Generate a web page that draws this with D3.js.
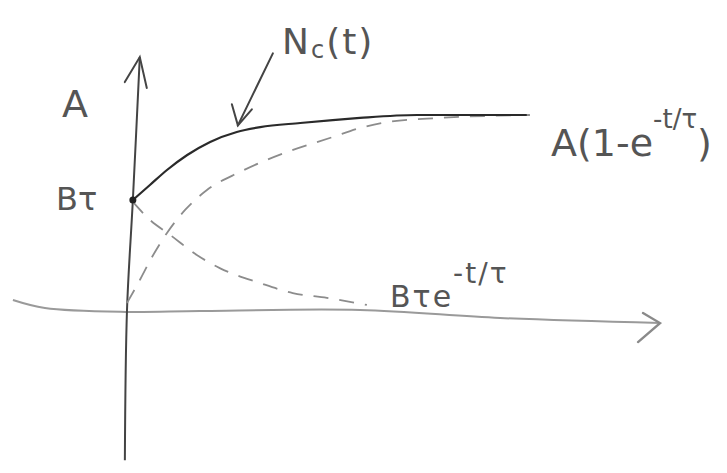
<!DOCTYPE html>
<html>
<head>
<meta charset="utf-8">
<script src="https://cdn.jsdelivr.net/npm/d3@7"></script>
<style>
  body { margin: 0; background: #fff; }
  text { font-family: "DejaVu Sans", sans-serif; fill: #555; }
</style>
</head>
<body>
<svg id="sketch"></svg>
<script>
// values, in units of t and of A (A = 1)
let solidT = [0.11, 0.43, 0.75, 1.13, 1.56, 2.06, 2.50, 3.25, 3.86, 4.37, 5.44, 7.5];
let solidV = [0.564, 0.641, 0.718, 0.795, 0.862, 0.913, 0.938, 0.959, 0.974, 0.985, 1.0, 1.0];

let riseT = [0.0, 0.21, 0.47, 0.75, 1.09, 1.50, 2.12, 3.0, 3.86, 4.37, 4.88, 5.87, 7.56];
let riseV = [0.036, 0.138, 0.272, 0.395, 0.513, 0.615, 0.708, 0.81, 0.887, 0.933, 0.964, 0.985, 1.0];

let decayT = [0.11, 0.43, 0.81, 1.31, 1.74, 2.50, 3.11, 3.75, 4.50];
let decayV = [0.554, 0.462, 0.385, 0.282, 0.215, 0.138, 0.087, 0.062, 0.026];

// hand-drawn axes
let xAxisT = [-2.14, -1.54, -0.02, 1.37, 4.37, 7.0, 10.0];
let xAxisV = [0.051, 0.01, -0.01, -0.005, 0, -0.041, -0.067];
let yAxisT = [-0.04, 0.0, 0.11, 0.24];
let yAxisV = [-0.77, 0.0, 0.564, 1.297];

let zip = (a, b) => a.map((d, i) => [d, b[i]]);

function getConfig() {
  let width = 727;
  let height = 473;
  let container = d3.select("#sketch")
    .attr("width", width)
    .attr("height", height);
  let x = d3.scaleLinear().domain([0, 10]).range([127, 660]);
  let y = d3.scaleLinear().domain([0, 1]).range([310, 115]);
  return { width, height, container, x, y };
}

function drawSketch(config) {
  let { container, x, y } = config;

  let axisLine = d3.line()
    .x(d => x(d[0]))
    .y(d => y(d[1]))
    .curve(d3.curveCatmullRom);

  let line = d3.line()
    .x(d => x(d[0]))
    .y(d => y(d[1]))
    .curve(d3.curveMonotoneX);

  // axes
  container.append("path")
    .attr("d", axisLine(zip(xAxisT, xAxisV)))
    .attr("fill", "none")
    .attr("stroke", "#9a9a9a")
    .attr("stroke-width", 2);

  container.append("path")
    .attr("d", axisLine(zip(yAxisT, yAxisV)))
    .attr("fill", "none")
    .attr("stroke", "#444")
    .attr("stroke-width", 2);

  // arrow heads
  let xTip = [x(xAxisT[6]), y(xAxisV[6])];
  container.append("path")
    .attr("d", `M${xTip[0] - 17},${xTip[1] - 10} L${xTip[0]},${xTip[1]} L${xTip[0] - 22},${xTip[1] + 19}`)
    .attr("fill", "none")
    .attr("stroke", "#8a8a8a")
    .attr("stroke-width", 2.4)
    .attr("stroke-linecap", "round");

  let yTip = [x(yAxisT[3]), y(yAxisV[3])];
  container.append("path")
    .attr("d", `M${yTip[0] - 15},${yTip[1] + 25} L${yTip[0]},${yTip[1]} L${yTip[0] + 7},${yTip[1] + 31}`)
    .attr("fill", "none")
    .attr("stroke", "#444")
    .attr("stroke-width", 2)
    .attr("stroke-linecap", "round");

  // dashed curves
  [zip(riseT, riseV), zip(decayT, decayV)].forEach(pts => {
    container.append("path")
      .attr("d", line(pts))
      .attr("fill", "none")
      .attr("stroke", "#8c8c8c")
      .attr("stroke-width", 1.8)
      .attr("stroke-dasharray", "15,11");
  });

  // N_c(t) solid curve
  container.append("path")
    .attr("d", line(zip(solidT, solidV)))
    .attr("fill", "none")
    .attr("stroke", "#2a2a2a")
    .attr("stroke-width", 2.2);

  container.append("circle")
    .attr("cx", x(solidT[0]))
    .attr("cy", y(solidV[0]))
    .attr("r", 3.5)
    .attr("fill", "#222");

  // pointer to the solid curve
  let pTip = [x(2.08), y(0.947)];
  container.append("path")
    .attr("d", `M${pTip[0] + 35},${pTip[1] - 72} L${pTip[0]},${pTip[1]}`)
    .attr("fill", "none")
    .attr("stroke", "#444")
    .attr("stroke-width", 2)
    .attr("stroke-linecap", "round");
  container.append("path")
    .attr("d", `M${pTip[0] - 6},${pTip[1] - 21} L${pTip[0]},${pTip[1]} L${pTip[0] + 14},${pTip[1] - 16}`)
    .attr("fill", "none")
    .attr("stroke", "#444")
    .attr("stroke-width", 2)
    .attr("stroke-linecap", "round");

  // labels
  container.append("text")
    .attr("x", 62).attr("y", 117)
    .attr("font-size", 38)
    .text("A");

  container.append("text")
    .attr("x", 56).attr("y", 210)
    .attr("font-size", 32)
    .text("Bτ");

  let nc = container.append("text")
    .attr("x", 282).attr("y", 54)
    .attr("font-size", 36)
    .attr("letter-spacing", 2);
  nc.append("tspan").text("N");
  nc.append("tspan").attr("font-size", 24).attr("dy", 4).text("c");
  nc.append("tspan").attr("dy", -4).text("(t)");

  let rise = container.append("text")
    .attr("x", 551).attr("y", 156)
    .attr("font-size", 38);
  rise.append("tspan").text("A(1-e");
  rise.append("tspan").attr("font-size", 26).attr("dy", -28).text("-t/τ");
  rise.append("tspan").attr("dy", 28).text(")");

  let decay = container.append("text")
    .attr("x", 390).attr("y", 307)
    .attr("font-size", 30)
    .attr("letter-spacing", 2);
  decay.append("tspan").text("Bτe");
  decay.append("tspan").attr("font-size", 28).attr("dy", -24).text("-t/τ");
}

drawSketch(getConfig());
</script>
</body>
</html>
